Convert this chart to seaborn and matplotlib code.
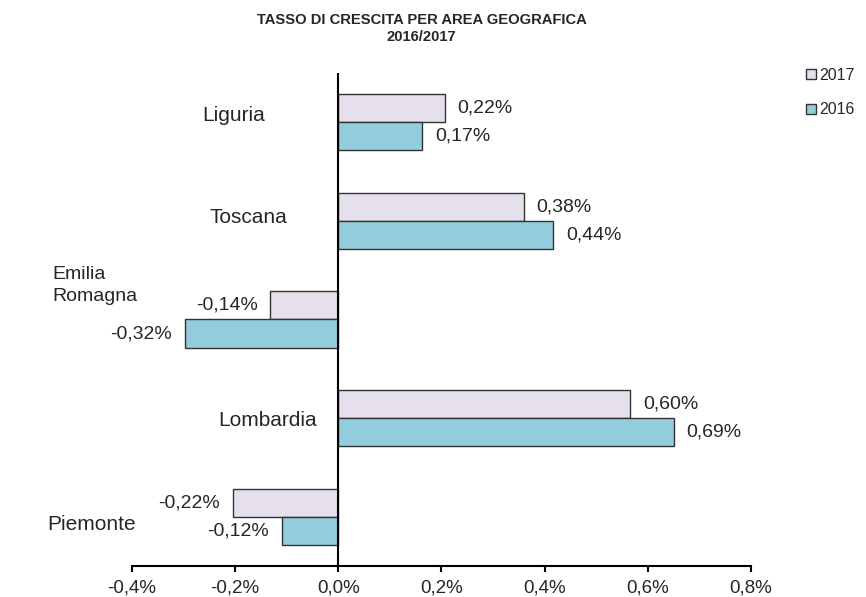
import pandas as pd
import numpy as np
import matplotlib.pyplot as plt
from matplotlib.patches import Patch
import seaborn as sns

# dati (valori in %)
regioni = ["Liguria", "Toscana", "Emilia Romagna", "Lombardia", "Piemonte"]
val_2017 = [0.207, 0.360, -0.132, 0.566, -0.205]
val_2016 = [0.163, 0.417, -0.298, 0.651, -0.110]
etichette_2017 = ["0,22%", "0,38%", "-0,14%", "0,60%", "-0,22%"]
etichette_2016 = ["0,17%", "0,44%", "-0,32%", "0,69%", "-0,12%"]
tick_vals = [-0.4, -0.2, 0.0, 0.2, 0.4, 0.6, 0.8]
tick_labels = ["-0,4%", "-0,2%", "0,0%", "0,2%", "0,4%", "0,6%", "0,8%"]
anni = ["2017", "2016"]
colori = {"2017": "#E6E0EC", "2016": "#93CDDD"}

df = pd.DataFrame({
    "regione": regioni * 2,
    "anno": ["2017"] * len(regioni) + ["2016"] * len(regioni),
    "valore": val_2017 + val_2016,
})

sns.set_style("white")
plt.rcParams["font.family"] = ["Liberation Sans", "DejaVu Sans"]

fig = plt.figure(figsize=(8.66, 5.97), dpi=100)
ax = fig.add_axes([0.1524, 0.052, 0.7148, 0.8258])

sns.barplot(data=df, y="regione", x="valore", hue="anno", order=regioni,
            hue_order=anni, palette=colori, orient="h", width=0.57,
            saturation=1, edgecolor="#333333", linewidth=1.0, ax=ax,
            legend=False)

# etichette valori
ax.bar_label(ax.containers[0], labels=etichette_2017, padding=9, fontsize=14)
ax.bar_label(ax.containers[1], labels=etichette_2016, padding=9, fontsize=14)

ax.set_xlim(-0.4, 0.8)
ax.set_ylim(4.5, -0.5)
ax.set_xticks(tick_vals)
ax.set_xticklabels(tick_labels, fontsize=13.5)
ax.set_yticks([])
ax.set_xlabel("")
ax.set_ylabel("")
ax.axvline(0, color="black", lw=1.5, zorder=5)

for s in ["top", "right", "left"]:
    ax.spines[s].set_visible(False)
ax.spines["bottom"].set_color("black")
ax.spines["bottom"].set_linewidth(1.5)
ax.tick_params(axis="x", direction="out", length=4, width=1.5, color="black", pad=6, bottom=True)

# nomi delle regioni (posizionati come nell'originale)
pos_nomi = [(-0.202, -0.07, "center"), (-0.174, -0.03, "center"),
            (-0.554, -0.345, "left"), (-0.137, 0.02, "center"), (-0.478, 0.08, "center")]
nomi = ["Liguria", "Toscana", "Emilia\nRomagna", "Lombardia", "Piemonte"]
for i, (nome, (px, dy, ha)) in enumerate(zip(nomi, pos_nomi)):
    fs = 14 if i == 2 else 15
    ax.text(px, i + dy, nome, ha=ha, va="center", fontsize=fs,
            linespacing=1.35, clip_on=False)

fig.text(0.487, 0.979, "TASSO DI CRESCITA PER AREA GEOGRAFICA\n2016/2017",
         ha="center", va="top", fontsize=10.6, fontweight="bold", linespacing=1.35)

handles = [Patch(facecolor=colori[a], edgecolor="#333333", label=a) for a in anni]
fig.legend(handles=handles, loc="upper left", bbox_to_anchor=(0.931, 0.886),
           frameon=False, fontsize=11.5, handlelength=0.6, handleheight=0.6,
           handletextpad=0.2, labelspacing=1.2, borderaxespad=0, borderpad=0)

plt.savefig("out.png", dpi=100)
